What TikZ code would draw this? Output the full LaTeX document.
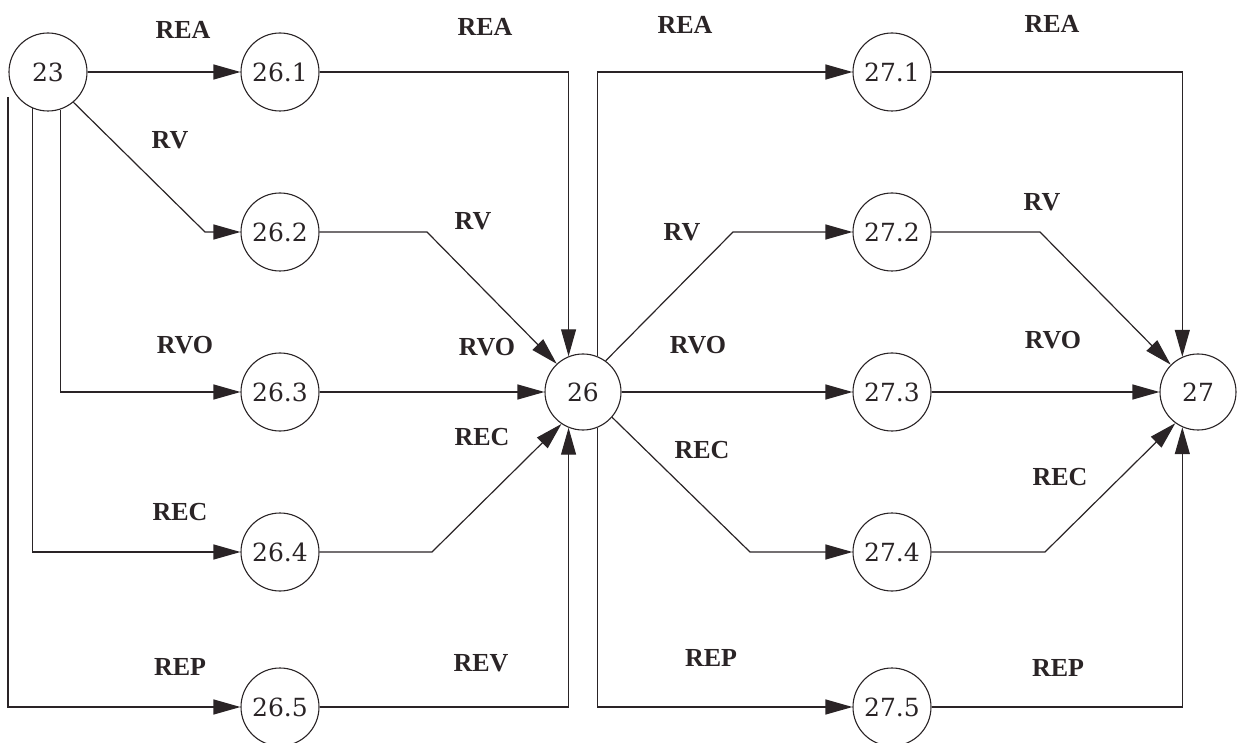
\documentclass[tikz,border=0pt]{standalone}
\usepackage{fontspec}
\setmainfont{DejaVu Serif}
\newfontfamily\lblfont{Liberation Serif}
\usetikzlibrary{arrows.meta}
\definecolor{ink}{HTML}{2A2426}
\begin{document}
\begin{tikzpicture}[x=1pt,y=-1pt,
  state/.style={circle,draw=ink,line width=1.1pt,minimum size=78pt,inner sep=0pt,font=\fontsize{25}{25}\selectfont,text=ink},
  bigstate/.style={state,minimum size=76pt},
  conn/.style={draw=ink,line width=1.2pt,-{Triangle[length=27pt,width=15pt]}},
  lbl/.style={font=\lblfont\bfseries\fontsize{26}{26}\selectfont,text=ink}]
\useasboundingbox (0,0) rectangle (1243,743);
% nodes
\node[state] (n23) at (48,72) {23};
\node[state] (n261) at (280,72) {26.1};
\node[state] (n262) at (280,232) {26.2};
\node[state] (n263) at (280,392) {26.3};
\node[state] (n264) at (280,552) {26.4};
\node[state] (n265) at (280,707) {26.5};
\node[bigstate] (n26) at (583,392) {26};
\node[state] (n271) at (892,72) {27.1};
\node[state] (n272) at (892,232) {27.2};
\node[state] (n273) at (892,392) {27.3};
\node[state] (n274) at (892,552) {27.4};
\node[state] (n275) at (892,707) {27.5};
\node[bigstate] (n27) at (1198,392) {27};
% bend points
\coordinate (s5) at (8,97);
\coordinate (k1) at (205,232);
\coordinate (k2) at (427,232);
\coordinate (k4) at (432,552);
\coordinate (k5) at (733,232);
\coordinate (k6) at (750,552);
\coordinate (k7) at (1040,232);
\coordinate (k8) at (1045,552);
% connectors from 23
\draw[conn] (n23) -- (n261);
\draw[conn] (n23.-50) -- (k1) -- (n262);
\draw[conn] (n23.-72) |- (n263);
\draw[conn] (n23.-113) |- (n264);
\draw[conn] (s5) |- (n265);
% connectors into 26
\draw[conn] (n261) -| (n26.112);
\draw[conn] (n262) -- (k2) -- (n26.133);
\draw[conn] (n263) -- (n26);
\draw[conn] (n264) -- (k4) -- (n26.236);
\draw[conn] (n265) -| (n26.248);
% connectors from 26
\draw[conn] (n26.68) |- (n271);
\draw[conn] (n26.54) -- (k5) -- (n272);
\draw[conn] (n26) -- (n273);
\draw[conn] (n26.-41) -- (k6) -- (n274);
\draw[conn] (n26.-68) |- (n275);
% connectors into 27
\draw[conn] (n271) -| (n27.114);
\draw[conn] (n272) -- (k7) -- (n27.135);
\draw[conn] (n273) -- (n27);
\draw[conn] (n274) -- (k8) -- (n27.234);
\draw[conn] (n275) -| (n27.246);
% labels
\node[lbl] (a1) at (183,30) {REA};
\node[lbl] (a2) at (170,140) {RV};
\node[lbl] (a3) at (185,345) {RVO};
\node[lbl] (a4) at (180,512) {REC};
\node[lbl] (a5) at (180,667) {REP};
\node[lbl] (b1) at (485,27) {REA};
\node[lbl] (b2) at (473,221) {RV};
\node[lbl] (b3) at (487,347) {RVO};
\node[lbl] (b4) at (482,437) {REC};
\node[lbl] (b5) at (481,663) {REV};
\node[lbl] (c1) at (685,25) {REA};
\node[lbl] (c2) at (682,232) {RV};
\node[lbl] (c3) at (698,345) {RVO};
\node[lbl] (c4) at (702,450) {REC};
\node[lbl] (c5) at (711,658) {REP};
\node[lbl] (d1) at (1052,24) {REA};
\node[lbl] (d2) at (1042,202) {RV};
\node[lbl] (d3) at (1053,340) {RVO};
\node[lbl] (d4) at (1060,477) {REC};
\node[lbl] (d5) at (1058,668) {REP};
\end{tikzpicture}
\end{document}
